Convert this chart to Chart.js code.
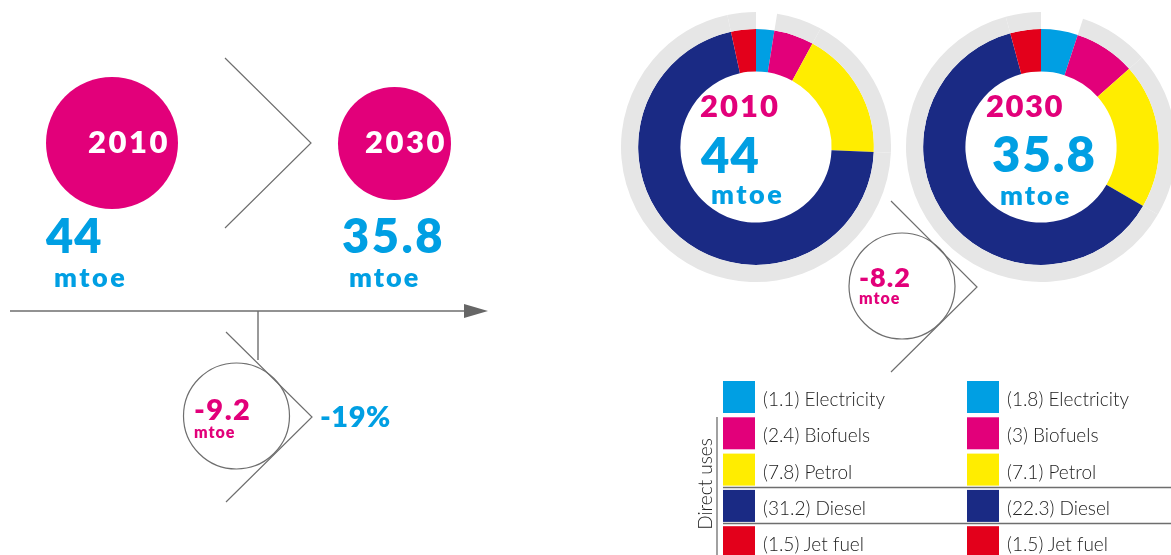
<!DOCTYPE html>
<html>
<head>
<meta charset="utf-8">
<script src="https://cdn.jsdelivr.net/npm/chart.js@4/dist/chart.umd.min.js"></script>
<style>
  html, body { margin: 0; padding: 0; background: #fff; overflow: hidden; }
  body { width: 1171px; height: 555px; position: relative; font-family: Lato, "Open Sans", sans-serif; }
  canvas.donut { position: absolute; top: 12px; }
  #art { position: absolute; left: 0; top: 0; }
</style>
</head>
<body>
<canvas id="donut2010" class="donut" width="270" height="270" style="left:621px"></canvas>
<canvas id="donut2030" class="donut" width="270" height="270" style="left:906px"></canvas>
<svg id="art" width="1171" height="555"></svg>
<script>
// data
var categories = ['Electricity', 'Biofuels', 'Petrol', 'Diesel', 'Jet fuel'];
var values2010 = [1.1, 2.4, 7.8, 31.2, 1.5];
var values2030 = [1.8, 3, 7.1, 22.3, 1.5];
var totals = ['44', '35.8'];
var years = ['2010', '2030'];
var change = '-9.2';
var changeDonut = '-8.2';
var changePct = '-19%';

var colors = ['#009fe3', '#e2007a', '#ffed00', '#1a2a84', '#e3001b'];
var ringColors = ['rgba(0,0,0,0)', '#e6e6e6', '#e6e6e6', '#e6e6e6', '#e6e6e6'];
var pink = '#e2007a', blue = '#009fe3', lineGray = '#6e6e6e';

function makeDonut(id, values) {
    var ctx = document.getElementById(id).getContext('2d');
    return new Chart(ctx, {
        type: 'doughnut',
        data: {
            labels: categories,
            datasets: [{
                data: values,
                backgroundColor: ringColors,
                borderWidth: 0,
                weight: 17
            }, {
                data: values,
                backgroundColor: colors,
                borderWidth: 0,
                weight: 42
            }]
        },
        options: {
            responsive: false,
            animation: false,
            events: [],
            cutout: '56%',
            plugins: { legend: { display: false }, tooltip: { enabled: false } }
        }
    });
}
makeDonut('donut2010', values2010);
makeDonut('donut2030', values2030);

// overlay: texts, lines, legend
var svg = document.getElementById('art');
var NS = 'http://www.w3.org/2000/svg';
function el(tag, attrs, text) {
    var e = document.createElementNS(NS, tag);
    for (var k in attrs) e.setAttribute(k, attrs[k]);
    if (text !== undefined) e.textContent = text;
    svg.appendChild(e);
    return e;
}
function txt(x, y, s, size, fill, weight, anchor, spacing) {
    return el('text', { x: x, y: y, 'font-size': size, fill: fill, 'font-weight': weight || 700,
        'text-anchor': anchor || 'start', 'font-family': 'Lato, sans-serif',
        'letter-spacing': spacing || 0 }, s);
}
function line(x1, y1, x2, y2, w) {
    el('line', { x1: x1, y1: y1, x2: x2, y2: y2, stroke: lineGray, 'stroke-width': w || 1.2 });
}

// left infographic
el('circle', { cx: 112, cy: 143, r: 66, fill: pink });
el('circle', { cx: 394.5, cy: 143.5, r: 56.5, fill: pink });
txt(129, 153, years[0], 31, '#fff', 800, 'middle', 2.5);
txt(406, 153, years[1], 31, '#fff', 800, 'middle', 2.5);
el('polyline', { points: '225,58 311,143 225,228', fill: 'none', stroke: lineGray, 'stroke-width': 1.2 });
txt(46, 253, totals[0], 47, blue, 800, 'start', 1);
txt(54, 287, 'mtoe', 27, blue, 800, 'start', 2.5);
txt(342, 253, totals[1], 47, blue, 800, 'start', 2.5);
txt(349, 287, 'mtoe', 27, blue, 800, 'start', 2);
line(10, 311, 468, 311, 1.6);
el('polygon', { points: '464,304 488,311 464,318', fill: '#666' });
line(258, 311, 258, 360, 1.4);
el('circle', { cx: 236.5, cy: 416, r: 53, fill: 'none', stroke: lineGray, 'stroke-width': 1.2 });
el('polyline', { points: '226,332 312,417 226,502', fill: 'none', stroke: lineGray, 'stroke-width': 1.2 });
txt(194, 420, change, 29, pink, 800, 'start', 1.5);
txt(194, 438, 'mtoe', 16, pink, 800, 'start', 1);
txt(320, 427, changePct, 29, blue, 800, 'start', 0.5);

// donut centres
txt(700, 117, years[0], 31, pink, 800, 'start', 2);
txt(701, 173, totals[0], 49, blue, 800, 'start', 1);
txt(711, 204, 'mtoe', 27, blue, 800, 'start', 2.5);
txt(986, 117, years[1], 31, pink, 800, 'start', 1.5);
txt(992, 172, totals[1], 49, blue, 800, 'start', 2);
txt(1000, 205, 'mtoe', 27, blue, 800, 'start', 2);

// change between donuts
el('circle', { cx: 902, cy: 286, r: 53, fill: 'none', stroke: lineGray, 'stroke-width': 1.2 });
el('polyline', { points: '891,201 977,287 891,372', fill: 'none', stroke: lineGray, 'stroke-width': 1.2 });
txt(859, 287, changeDonut, 27, pink, 800, 'start', 1);
txt(859, 304, 'mtoe', 16, pink, 800, 'start', 1);

// legend
var legendX = [723, 967];
var legendVals = [values2010, values2030];
for (var c = 0; c < 2; c++) {
    for (var i = 0; i < categories.length; i++) {
        var rowTop = 381 + i * 36.3;
        el('rect', { x: legendX[c], y: rowTop, width: 32, height: 32, fill: colors[i] });
        txt(legendX[c] + 40, rowTop + 25, '(' + legendVals[c][i] + ') ' + categories[i], 19, '#222', 300);
    }
}
line(723, 487.5, 1171, 487.5, 1.3);
line(723, 523.5, 1171, 523.5, 1.3);
line(717, 417, 717, 555, 1.3);
var du = txt(0, 0, 'Direct uses', 19, '#222', 300, 'middle');
du.setAttribute('transform', 'translate(712,484) rotate(-90)');
</script>
</body>
</html>
